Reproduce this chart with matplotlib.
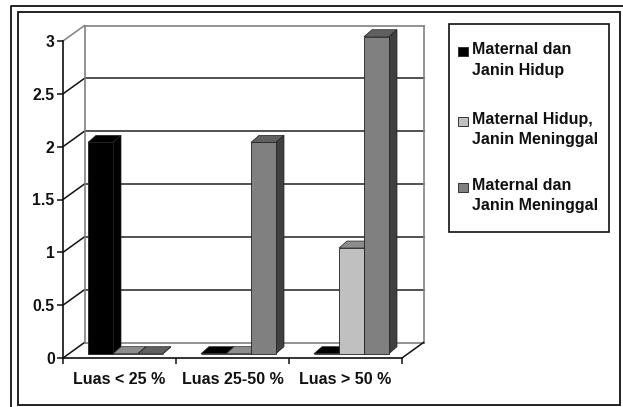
import matplotlib
matplotlib.use('Agg')
import matplotlib.pyplot as plt
from matplotlib.patches import Polygon, Rectangle

plt.rcParams['font.family'] = ['Liberation Sans', 'DejaVu Sans']
plt.rcParams['font.weight'] = 'bold'

categories = ['Luas < 25 %', 'Luas 25-50 %', 'Luas > 50 %']
hidup = [2, 0, 0]
janin_meninggal = [0, 0, 1]
meninggal = [0, 2, 3]
y_ticks = [0, 0.5, 1, 1.5, 2, 2.5, 3]
y_labels = ['0', '0.5', '1', '1.5', '2', '2.5', '3']
legend_labels = ['Maternal dan\nJanin Hidup', 'Maternal Hidup,\nJanin Meninggal', 'Maternal dan\nJanin Meninggal']

W, H = 623, 407
fig = plt.figure(figsize=(W / 100, H / 100), dpi=100)

# page layer in pixels, for the frames and the legend box
page = fig.add_axes([0, 0, 1, 1])
page.set_xlim(0, W)
page.set_ylim(H, 0)
page.axis('off')
page.plot([11, 11, W], [H, 5.5, 5.5], color='#111111', lw=1.3)
page.add_patch(Rectangle((18, 12), 602, 393, fill=False, ec='#111111', lw=1.3))
page.add_patch(Rectangle((449, 24), 160, 208, fc='white', ec='#111111', lw=1.2))

# main axes = front plane of the fake 3d box
ax = fig.add_axes([63 / W, 1 - 358 / H, 339 / W, 317 / H])
ax.set_xlim(0, 3)
ax.set_ylim(0, 3)
ax.patch.set_alpha(0)
for s in ['top', 'right']:
    ax.spines[s].set_visible(False)
for s in ['left', 'bottom']:
    ax.spines[s].set_linewidth(1.2)
    ax.spines[s].set_color('#111111')

sx = 339 / 3.0
sy = 317 / 3.0
wall_dx = 21.5 / sx
wall_dy = 15.5 / sy

# back wall, gridlines and left wall
for v in y_ticks:
    c = '#808080' if v in (0, 3) else '#333333'
    ax.plot([wall_dx, 3 + wall_dx], [v + wall_dy, v + wall_dy], color=c, lw=1.2, clip_on=False, zorder=1)
    c2 = '#808080' if v == 3 else '#111111'
    ax.plot([0, wall_dx], [v, v + wall_dy], color=c2, lw=1.1, clip_on=False, zorder=1)
ax.plot([wall_dx, wall_dx], [wall_dy, 3 + wall_dy], color='#808080', lw=1.2, clip_on=False, zorder=1)
ax.plot([3 + wall_dx, 3 + wall_dx], [wall_dy, 3 + wall_dy], color='#808080', lw=1.2, clip_on=False, zorder=1)
ax.plot([3, 3 + wall_dx], [0, wall_dy], color='#111111', lw=1.1, clip_on=False, zorder=1)

# bars
bar_w = 25 / sx
bar_dx = 8 / sx
bar_dy = 7 / sy
base = 4.3 / sy
start = 25 / sx
series = [hidup, janin_meninggal, meninggal]
face_cols = ['#000000', '#C0C0C0', '#808080']
top_cols = ['#000000', '#8C8C8C', '#606060']
side_cols = ['#000000', '#606060', '#404040']

z = 3
for i in range(len(categories)):
    for j, vals in enumerate(series):
        x0 = i + start + j * bar_w
        v = vals[i]
        ax.bar(x0, v, bar_w, bottom=base, align='edge', color=face_cols[j], ec='#222222', lw=0.6, zorder=z + 1, clip_on=False)
        top = v + base
        ax.add_patch(Polygon([(x0, top), (x0 + bar_dx, top + bar_dy), (x0 + bar_w + bar_dx, top + bar_dy), (x0 + bar_w, top)],
                             fc=top_cols[j], ec='#222222', lw=0.5, zorder=z, clip_on=False))
        ax.add_patch(Polygon([(x0 + bar_w, base), (x0 + bar_w + bar_dx, base + bar_dy), (x0 + bar_w + bar_dx, top + bar_dy), (x0 + bar_w, top)],
                             fc=side_cols[j], ec='#222222', lw=0.5, zorder=z, clip_on=False))
        z += 2

# axis ticks and labels
ax.set_yticks(y_ticks)
ax.set_yticklabels(y_labels, fontsize=11.3, fontweight='bold', color='#111111')
ax.set_xticks([0, 1, 2, 3])
ax.set_xticklabels([])
ax.set_xticks([0.5, 1.5, 2.5], minor=True)
ax.set_xticklabels(categories, minor=True, fontsize=11.5, fontweight='bold', color='#111111')
ax.tick_params(axis='x', which='minor', length=0, pad=10)
ax.tick_params(axis='both', which='major', length=4, width=1.1, color='#111111')
ax.tick_params(axis='y', pad=2)

# legend
legend_y = [60, 129.5, 195.5]
for lab, col, y in zip(legend_labels, face_cols, legend_y):
    page.add_patch(Rectangle((458, y - 13), 10, 9, fc=col, ec='#333333', lw=0.7))
    page.text(472, y, lab, fontsize=11.5, fontweight='bold', va='center', ha='left', linespacing=1.42, color='#111111')

fig.savefig('out.png', dpi=100)
